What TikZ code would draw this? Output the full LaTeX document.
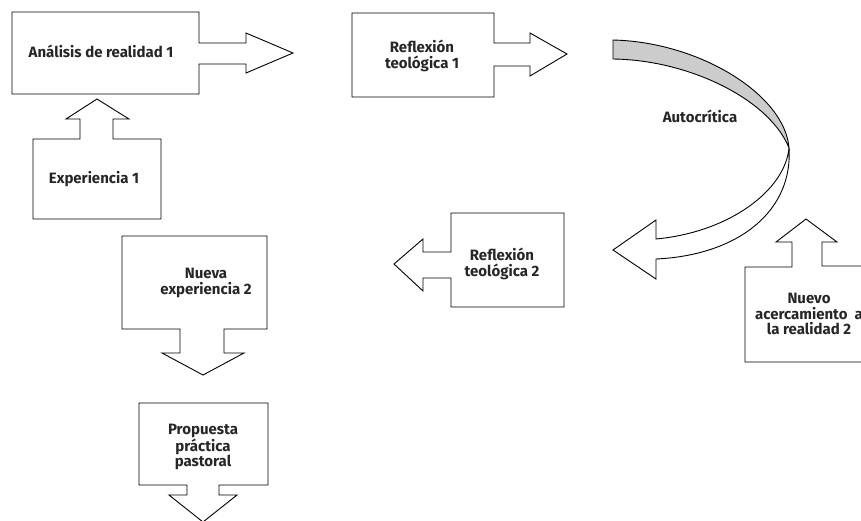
\documentclass[tikz,border=0pt]{standalone}
\usepackage{fontspec}
\setmainfont{Fira Sans}
\begin{document}
\begin{tikzpicture}[x=1pt,y=-1pt,
  shapeline/.style={draw=black,line width=0.9pt,line join=miter,fill=white},
  lbl/.style={inner sep=0pt,align=center,text=black!85,font=\fontsize{15}{15.8}\selectfont\bfseries}]
\useasboundingbox (0,0) rectangle (861,520);
\clip (0,0) rectangle (861,520);
% Analisis de realidad 1
\draw[shapeline] (12,12) -- (199,12) -- (199,43) -- (246,43) -- (246,33) -- (293,53) -- (246,73) -- (246,64) -- (199,64) -- (199,94) -- (12,94) -- cycle;
% Experiencia 1
\draw[shapeline] (33,219) -- (33,139) -- (80,139) -- (80,119) -- (66,119) -- (97,99) -- (129,119) -- (113,119) -- (113,139) -- (161,139) -- (161,219) -- cycle;
% Reflexion teologica 1
\draw[shapeline] (352,13) -- (494,13) -- (494,43) -- (530,43) -- (530,33) -- (567,54) -- (530,76) -- (530,66) -- (494,66) -- (494,97) -- (352,97) -- cycle;
% curved arrow
\draw[shapeline,fill=black!20] (613,40) .. controls (700,42) and (785,95) .. (789,148) .. controls (770,100) and (690,60) .. (613,59) -- cycle;
\draw[shapeline] (789,148) .. controls (793,210) and (740,255) .. (656,259) -- (656,279) -- (613,250) -- (656,220) -- (656,239) .. controls (730,232) and (785,190) .. (789,148);
% Reflexion teologica 2
\draw[shapeline] (564,213) -- (451,213) -- (451,252) -- (423,252) -- (423,239) -- (394,264) -- (423,291) -- (423,278) -- (451,278) -- (451,307) -- (564,307) -- cycle;
% Nuevo acercamiento
\draw[shapeline] (745,362) -- (745,267) -- (792,267) -- (792,242) -- (776,242) -- (806,219) -- (837,242) -- (822,242) -- (822,266) -- (880,266) -- (880,362) -- cycle;
% Nueva experiencia 2
\draw[shapeline] (122,236) -- (267,236) -- (267,329) -- (224,329) -- (224,353) -- (244,353) -- (203,375) -- (162,353) -- (180,353) -- (180,329) -- (122,329) -- cycle;
% Propuesta
\draw[shapeline] (139,403) -- (268,403) -- (268,485) -- (219,485) -- (219,495) -- (237,495) -- (203,522) -- (169,495) -- (187,495) -- (187,485) -- (139,485) -- cycle;
% labels
\node[lbl] (n1) at (101,51) {Análisis de realidad 1};
\node[lbl] (n2) at (94,179) {Experiencia 1};
\node[lbl] (n3) at (422,56) {Reflexión\\teológica 1};
\node[lbl] (n4) at (700,116) {Autocrítica};
\node[lbl] (n5) at (502,264) {Reflexión\\teológica 2};
\node[lbl] (n6) at (809,314) {Nuevo\\acercamiento\ \ a\\la realidad 2};
\node[lbl] (n7) at (206,283) {Nueva\\experiencia 2};
\node[lbl] (n8) at (203,447) {Propuesta\\práctica\\pastoral};
\end{tikzpicture}
\end{document}
